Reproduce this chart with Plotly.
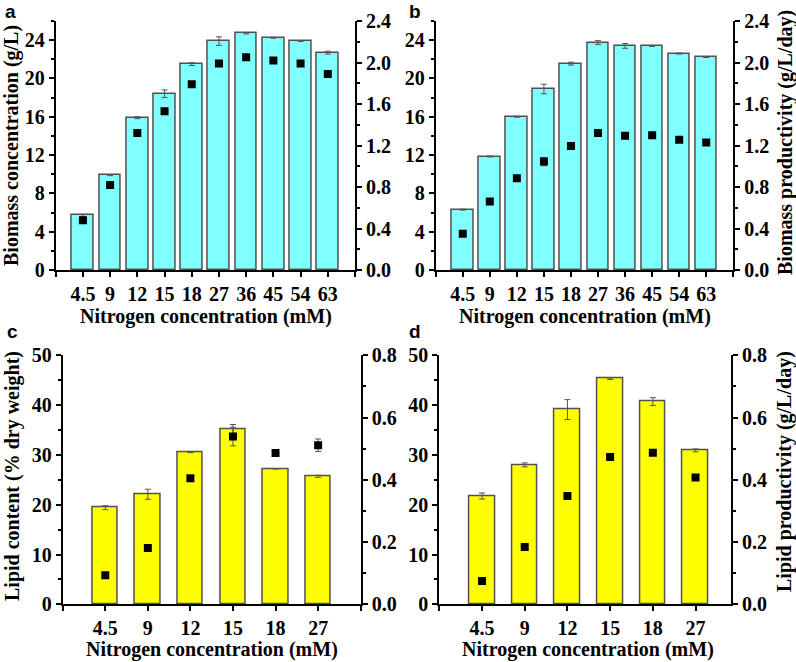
import plotly.graph_objects as go

# ---------------- data ----------------
categories_ab = ["4.5", "9", "12", "15", "18", "27", "36", "45", "54", "63"]
categories_cd = ["4.5", "9", "12", "15", "18", "27"]

biomass_conc = [5.7, 9.9, 15.9, 18.4, 21.5, 23.9, 24.7, 24.25, 23.9, 22.7]
biomass_conc_err = [0.1, 0.05, 0.1, 0.4, 0.15, 0.45, 0.05, 0.05, 0.05, 0.15]
panel_a_points = [0.48, 0.82, 1.32, 1.53, 1.79, 1.99, 2.05, 2.02, 1.99, 1.89]

panel_b_bars = [6.3, 11.85, 16.0, 18.9, 21.55, 23.75, 23.4, 23.4, 22.6, 22.2]
panel_b_bars_err = [0.05, 0.05, 0.05, 0.5, 0.15, 0.2, 0.25, 0.05, 0.05, 0.0]
biomass_prod = [0.35, 0.66, 0.885, 1.045, 1.195, 1.32, 1.295, 1.30, 1.255, 1.23]
biomass_prod_err = [0, 0, 0, 0.04, 0, 0, 0, 0, 0, 0]

lipid_content = [19.4, 22.1, 30.5, 35.1, 27.2, 25.7]
lipid_content_err = [0.4, 1.0, 0.05, 1.0, 0.05, 0.2]
panel_c_points = [0.093, 0.181, 0.405, 0.539, 0.486, 0.511]
panel_c_points_err = [0, 0, 0, 0.03, 0, 0.02]

panel_d_bars = [21.75, 28.0, 39.1, 45.3, 40.7, 30.9]
panel_d_bars_err = [0.6, 0.4, 2.0, 0.15, 0.8, 0.3]
lipid_prod = [0.075, 0.184, 0.348, 0.473, 0.487, 0.407]

# ---------------- styling ----------------
W, H = 796, 662
SERIF = "Liberation Serif"
CYAN = "#80FFFF"
YELLOW = "#FFFF00"
EDGE = "#505050"


def px(x):
    return x / W


def py(y):
    return 1 - y / H


fig = go.Figure()

panels = [
    dict(cats=categories_ab, bars=biomass_conc, berr=biomass_conc_err, pts=panel_a_points, perr=None,
         color=CYAN, width=0.8, xdom=(55.7, 355.0), ydom=(270.0, 21.0), yr=26, ydt=4, ymdt=2,
         y2r=2.4, y2dt=0.4, y2mdt=0.2, xmax=10),
    dict(cats=categories_ab, bars=panel_b_bars, berr=panel_b_bars_err, pts=biomass_prod, perr=biomass_prod_err,
         color=CYAN, width=0.8, xdom=(435.7, 733.3), ydom=(270.0, 21.0), yr=26, ydt=4, ymdt=2,
         y2r=2.4, y2dt=0.4, y2mdt=0.2, xmax=10),
    dict(cats=categories_cd, bars=lipid_content, berr=lipid_content_err, pts=panel_c_points, perr=panel_c_points_err,
         color=YELLOW, width=0.6, xdom=(62.7, 360.7), ydom=(604.3, 355.3), yr=50, ydt=10, ymdt=5,
         y2r=0.8, y2dt=0.2, y2mdt=0.1, xmax=6),
    dict(cats=categories_cd, bars=panel_d_bars, berr=panel_d_bars_err, pts=lipid_prod, perr=None,
         color=YELLOW, width=0.6, xdom=(439.3, 731.0), ydom=(604.3, 355.3), yr=50, ydt=10, ymdt=5,
         y2r=0.8, y2dt=0.2, y2mdt=0.1, xmax=5.83),
]

tickfont = dict(family=SERIF, size=20, color="black", weight="bold")
layout = {}

for i, p in enumerate(panels):
    xi = i + 1
    yl = 2 * i + 1
    yr = 2 * i + 2
    xname = "x" if xi == 1 else f"x{xi}"
    ylname = "y" if yl == 1 else f"y{yl}"
    yrname = f"y{yr}"
    n = len(p["cats"])
    xs = list(range(n))

    fig.add_trace(go.Bar(
        x=xs, y=p["bars"], width=p["width"],
        marker=dict(color=p["color"], line=dict(color=EDGE, width=1.5)),
        error_y=dict(type="data", array=p["berr"], color="#555555", thickness=1, width=3),
        xaxis=xname, yaxis=ylname, showlegend=False,
    ))
    sc = dict(x=xs, y=p["pts"], mode="markers",
              marker=dict(symbol="square", size=8, color="black"),
              xaxis=xname, yaxis=yrname, showlegend=False)
    if p["perr"] is not None:
        sc["error_y"] = dict(type="data", array=p["perr"], color="#555555", thickness=1, width=3)
    fig.add_trace(go.Scatter(**sc))

    tv = list(range(-1, int(p["xmax"]) + 1))
    tt = [p["cats"][v] if 0 <= v < n else "" for v in tv]
    layout[f"xaxis{'' if xi == 1 else xi}"] = dict(
        domain=[px(p["xdom"][0]), px(p["xdom"][1])],
        range=[-1, p["xmax"]], anchor=ylname,
        tickmode="array", tickvals=tv, ticktext=tt,
        ticks="outside", ticklen=5, tickwidth=2, tickcolor="black",
        showline=True, linecolor="black", linewidth=2,
        showgrid=False, zeroline=False, tickfont=tickfont, fixedrange=True,
    )
    layout[f"yaxis{'' if yl == 1 else yl}"] = dict(
        domain=[py(p["ydom"][0]), py(p["ydom"][1])],
        range=[0, p["yr"]], anchor=xname, side="left",
        tickmode="linear", tick0=0, dtick=p["ydt"],
        ticks="outside", ticklen=5, tickwidth=2, tickcolor="black",
        minor=dict(ticks="outside", ticklen=3, tickwidth=2, tickcolor="black", dtick=p["ymdt"], showgrid=False),
        showline=True, linecolor="black", linewidth=2,
        showgrid=False, zeroline=False, tickfont=tickfont, fixedrange=True,
    )
    layout[f"yaxis{yr}"] = dict(
        range=[0, p["y2r"]], anchor=xname, overlaying=ylname, side="right",
        tickmode="linear", tick0=0, dtick=p["y2dt"], tickformat=".1f",
        ticks="outside", ticklen=5, tickwidth=2, tickcolor="black",
        minor=dict(ticks="outside", ticklen=3, tickwidth=2, tickcolor="black", dtick=p["y2mdt"], showgrid=False),
        showline=True, linecolor="black", linewidth=2,
        showgrid=False, zeroline=False, tickfont=tickfont, fixedrange=True,
    )

xtitlefont = dict(family=SERIF, size=20, color="black", weight="bold")
ytitlefont = dict(family=SERIF, size=20, color="black", weight="bold")
letterfont = dict(family="Liberation Sans", size=19, color="black", weight="bold")


def ann(text, x, y, font, angle=0):
    return dict(text=text, x=px(x), y=py(y), xref="paper", yref="paper",
                showarrow=False, textangle=angle, font=font,
                xanchor="center", yanchor="middle")


annotations = [
    ann("a", 10, 11, letterfont),
    ann("b", 415, 11, letterfont),
    ann("c", 12, 331, letterfont),
    ann("d", 415, 331, letterfont),
    ann("Biomass concentration (g/L)", 11, 146, ytitlefont, -90),
    ann("Biomass productivity (g/L/day)", 785, 143, ytitlefont, -90),
    ann("Lipid content (% dry weight)", 12, 476, ytitlefont, -90),
    ann("Lipid productivity (g/L/day)", 785, 472, ytitlefont, -90),
    ann("Nitrogen concentration (mM)", 206, 316, xtitlefont),
    ann("Nitrogen concentration (mM)", 585, 316, xtitlefont),
    ann("Nitrogen concentration (mM)", 212, 649, xtitlefont),
    ann("Nitrogen concentration (mM)", 588, 649, xtitlefont),
]

fig.update_layout(
    width=W, height=H,
    margin=dict(l=0, r=0, t=0, b=0, autoexpand=False),
    paper_bgcolor="white", plot_bgcolor="white",
    bargap=0, barmode="overlay",
    annotations=annotations,
    **layout,
)

fig.write_html("out.html", config={"displayModeBar": False},
               post_script="document.body.style.margin='0';document.body.style.overflow='hidden';")
